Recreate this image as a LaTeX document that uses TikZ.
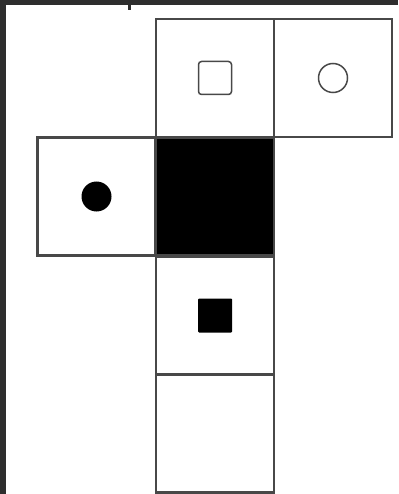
\documentclass[tikz,border=0pt]{standalone}
\definecolor{frame}{HTML}{2E2E2E}
\definecolor{edge}{HTML}{484848}
\begin{document}
\begin{tikzpicture}[x=1pt,y=-1pt,
  cell/.style={draw=edge,line width=2.2pt,minimum size=118pt,inner sep=0pt,outer sep=0pt},
  blackcell/.style={cell,fill=black},
  opensq/.style={draw=edge,line width=1.5pt,rounded corners=3pt,minimum size=33pt,inner sep=0pt},
  fillsq/.style={fill=black,rounded corners=1pt,minimum size=34pt,inner sep=0pt},
  opencirc/.style={circle,draw=edge,line width=1.5pt,minimum size=29pt,inner sep=0pt},
  fillcirc/.style={circle,fill=black,minimum size=30pt,inner sep=0pt}]
\fill[frame] (0,0) rectangle (398,494);
\fill[white] (6,5) rectangle (398,494);
\useasboundingbox (0,0) rectangle (398,494);
\fill[frame] (128,5) rectangle (131,10);
\node[cell] (top) at (215,78) {};
\node[cell] (right) at (333,78) {};
\node[cell] (left) at (96.5,196.5) {};
\node[blackcell] (center) at (215,196.5) {};
\node[cell] (mid) at (215,315.5) {};
\node[cell] (bottom) at (215,433.5) {};
\node[opensq] (sqo) at (top.center) {};
\node[opencirc] (ci) at (right.center) {};
\node[fillcirc] (cf) at (left.center) {};
\node[fillsq] (sqf) at (mid.center) {};
\end{tikzpicture}
\end{document}
